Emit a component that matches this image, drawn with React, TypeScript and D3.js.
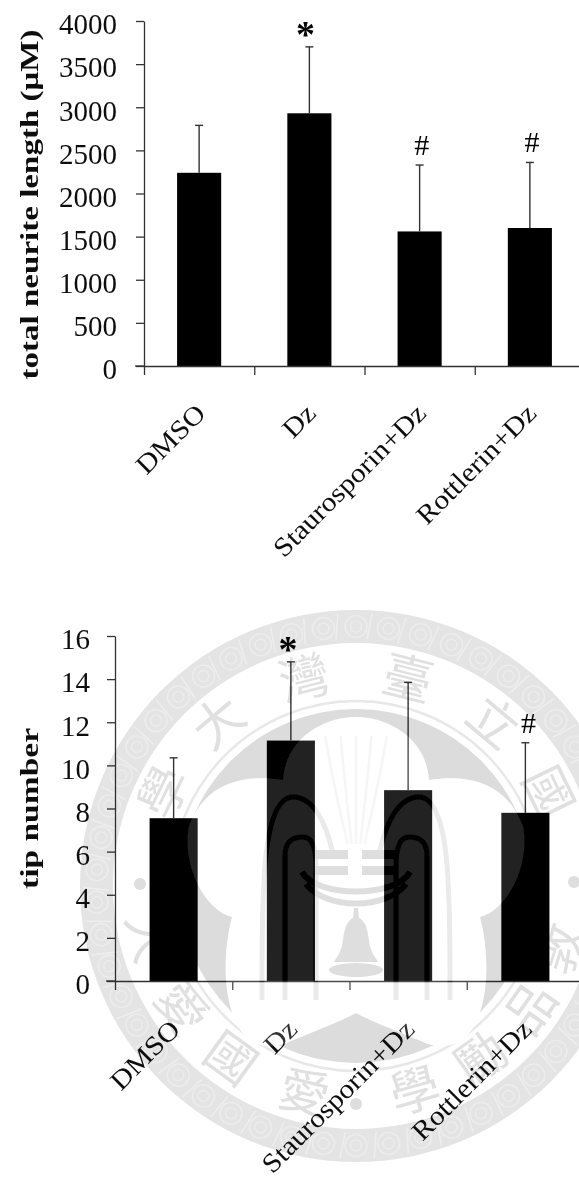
import { useEffect, useRef } from "react";
import * as d3 from "d3";

const categories = ["DMSO", "Dz", "Staurosporin+Dz", "Rottlerin+Dz"];

const lengthMeans = [2240, 2930, 1560, 1600];
const lengthErrorTops = [2790, 3700, 2330, 2360];
const lengthMarks = ["", "*", "#", "#"];
const lengthTicks = [0, 500, 1000, 1500, 2000, 2500, 3000, 3500, 4000];

const tipMeans = [7.55, 11.15, 8.85, 7.8];
const tipErrorTops = [10.35, 14.8, 13.85, 11.05];
const tipMarks = ["", "*", "", "#"];
const tipTicks = [0, 2, 4, 6, 8, 10, 12, 14, 16];

// seal text: character and its clock angle from the seal centre
const sealTop = [
  ["學", -64],
  ["大", -40],
  ["灣", -14],
  ["臺", 14],
  ["立", 40],
  ["國", 64],
];
const sealBottom = [
  ["人", -76],
  ["愛", -55],
  ["國", -36],
  ["愛", -14],
  ["學", 16],
  ["勵", 36],
  ["品", 55],
  ["敦", 73],
];

const SERIF = "'Liberation Serif', serif";
const CJK = "'Noto Sans CJK TC', sans-serif";

function drawChart(root, opts) {
  const { means, tops, marks, ticks, left, right, y0, y1, max, title, titleX, titleLen, labelY, labelDx, barW } = opts;

  const y = d3.scaleLinear().domain([0, max]).range([y0, y1]);
  const x = d3
    .scaleBand()
    .domain(categories)
    .range([left, right])
    .paddingInner(1 - barW)
    .paddingOuter((1 - barW) / 2);
  const edges = d3.scaleLinear().domain([0, 4]).range([left, right]);

  const g = root.append("g");

  g.selectAll("rect.bar")
    .data(categories)
    .enter()
    .append("rect")
    .attr("class", "bar")
    .attr("x", (d) => x(d))
    .attr("y", (d, i) => y(means[i]))
    .attr("width", x.bandwidth())
    .attr("height", (d, i) => y0 - y(means[i]))
    .attr("fill", "#000");

  const err = g
    .selectAll("g.err")
    .data(categories)
    .enter()
    .append("g")
    .attr("class", "err")
    .attr("stroke", "#333")
    .attr("stroke-width", 1.4);
  err
    .append("line")
    .attr("x1", (d) => x(d) + x.bandwidth() / 2)
    .attr("x2", (d) => x(d) + x.bandwidth() / 2)
    .attr("y1", (d, i) => y(means[i]))
    .attr("y2", (d, i) => y(tops[i]));
  err
    .append("line")
    .attr("x1", (d) => x(d) + x.bandwidth() / 2 - 4)
    .attr("x2", (d) => x(d) + x.bandwidth() / 2 + 4)
    .attr("y1", (d, i) => y(tops[i]))
    .attr("y2", (d, i) => y(tops[i]));

  g.selectAll("text.mark")
    .data(categories)
    .enter()
    .append("text")
    .attr("class", "mark")
    .attr("x", (d, i) => x(d) + x.bandwidth() / 2 + opts.markDx + (marks[i] === "*" ? -6 : 0))
    .attr("y", (d, i) => y(tops[i]) - (marks[i] === "*" ? 0 : 10))
    .attr("text-anchor", "middle")
    .attr("font-family", SERIF)
    .attr("font-weight", (d, i) => (marks[i] === "*" ? "bold" : "normal"))
    .attr("font-size", (d, i) => (marks[i] === "*" ? 38 : 30))
    .attr("fill", "#000")
    .text((d, i) => marks[i]);

  const yAxis = g
    .append("g")
    .attr("transform", `translate(${left},0)`)
    .call(
      d3
        .axisLeft(y)
        .tickValues(ticks)
        .tickSize(8)
        .tickPadding(opts.tickPad)
        .tickSizeOuter(0)
        .tickFormat(d3.format("d"))
    );
  yAxis.selectAll("line,path").attr("stroke", "#333").attr("stroke-width", 1.3);
  yAxis
    .selectAll("text")
    .attr("font-family", SERIF)
    .attr("font-size", 29)
    .attr("dy", "0.44em")
    .attr("fill", "#111");

  const xAxis = g
    .append("g")
    .attr("transform", `translate(0,${y0})`)
    .call(d3.axisBottom(edges).ticks(4).tickSize(9).tickSizeOuter(0).tickFormat(() => ""));
  xAxis.selectAll("line,path").attr("stroke", "#333").attr("stroke-width", 1.3);
  g.append("line")
    .attr("x1", left - 9)
    .attr("x2", left)
    .attr("y1", y0)
    .attr("y2", y0)
    .attr("stroke", "#333")
    .attr("stroke-width", 1.3);

  g.selectAll("text.cat")
    .data(categories)
    .enter()
    .append("text")
    .attr("class", "cat")
    .attr("transform", (d) => `translate(${x(d) + x.bandwidth() / 2 + labelDx},${labelY}) rotate(-45) scale(1.1,1)`)
    .attr("text-anchor", "end")
    .attr("font-family", SERIF)
    .attr("font-size", 27)
    .attr("fill", "#111")
    .text((d) => d);

  g.append("text")
    .attr("transform", `translate(${titleX},${(y0 + y1) / 2 + (opts.titleDy || 0)}) rotate(-90)`)
    .attr("text-anchor", "middle")
    .attr("font-family", SERIF)
    .attr("font-weight", "bold")
    .attr("font-size", 25)
    .attr("textLength", titleLen)
    .attr("lengthAdjust", "spacingAndGlyphs")
    .attr("fill", "#111")
    .text(title);
}

// arches, books and bell in the middle of the seal
function drawEmblem(g, color, bookColor) {
  const arches = [
    "M-94,114 C-94,20 -96,-89 -63,-89 C-42,-89 -30,-62 -24,-36",
    "M-71,114 L-71,-30 C-71,-46 -62,-49 -53,-49 C-44,-49 -40,-40 -40,-20 L-40,114",
  ];
  [1, -1].forEach((s) => {
    arches.forEach((d) => {
      g.append("path")
        .attr("d", d)
        .attr("transform", `scale(${s},1)`)
        .attr("fill", "none")
        .attr("stroke", color)
        .attr("stroke-width", 5);
    });
  });
  g.append("rect").attr("x", -42).attr("y", -36).attr("width", 34).attr("height", 9).attr("fill", bookColor);
  g.append("rect").attr("x", 6).attr("y", -36).attr("width", 34).attr("height", 9).attr("fill", bookColor);
  g.append("rect").attr("x", -42).attr("y", -20).attr("width", 34).attr("height", 9).attr("fill", bookColor);
  g.append("rect").attr("x", 6).attr("y", -20).attr("width", 34).attr("height", 9).attr("fill", bookColor);
  g.append("path")
    .attr("d", "M-54,-14 C-40,12 40,12 54,-14")
    .attr("fill", "none")
    .attr("stroke", bookColor)
    .attr("stroke-width", 6);
  g.append("path")
    .attr("d", "M-50,-2 C-30,24 30,24 50,-2")
    .attr("fill", "none")
    .attr("stroke", bookColor)
    .attr("stroke-width", 6);
  g.append("path")
    .attr("d", "M-2,22 L2,22 L3,32 C12,36 12,50 14,60 C16,68 20,72 22,76 L-22,76 C-20,72 -16,68 -14,60 C-12,50 -12,36 -3,32 Z")
    .attr("fill", bookColor);
  g.append("ellipse").attr("cx", 0).attr("cy", 84).attr("rx", 27).attr("ry", 7).attr("fill", bookColor);
}

function drawSeal(root) {
  const cx = 356;
  const cy = 886;
  const flower =
    "M-73,-106 C-70,-150 -30,-169 0,-169 C30,-169 70,-150 73,-106 C110,-112 150,-105 167,-60 C175,-20 150,25 124,31 C132,60 135,110 118,140 C108,160 85,165 65,155 C40,145 15,135 0,127 C-15,135 -40,145 -65,155 C-85,165 -108,160 -118,140 C-135,110 -132,60 -124,31 C-150,25 -175,-20 -167,-60 C-150,-105 -110,-112 -73,-106 Z";

  const defs = root.append("defs");
  const mask = defs.append("mask").attr("id", "seal-lift").attr("maskUnits", "userSpaceOnUse")
    .attr("x", 0).attr("y", 0).attr("width", 579).attr("height", 1189);
  const maskG = mask.append("g").attr("transform", `translate(${cx},${cy})`);
  maskG.append("path").attr("d", flower).attr("fill", "#fff");
  drawEmblem(maskG, "#000", "#000");

  // everything grey multiplies, so the bars stay black under it
  const seal = root
    .append("g")
    .attr("transform", `translate(${cx},${cy})`)
    .style("mix-blend-mode", "multiply");

  seal.append("circle").attr("r", 276).attr("fill", "#e4e4e4");
  seal.append("circle").attr("r", 243).attr("fill", "#fff");

  d3.range(0, 360, 7.2).forEach((a) => {
    const m = seal.append("g").attr("transform", `rotate(${a}) translate(0,-259.5)`);
    m.append("circle").attr("r", 11).attr("fill", "none").attr("stroke", "#ececec").attr("stroke-width", 1.6);
    m.append("circle").attr("r", 5.5).attr("fill", "none").attr("stroke", "#ececec").attr("stroke-width", 1.4);
    m.append("line").attr("x1", 16).attr("x2", 11).attr("y1", -13).attr("y2", 13).attr("stroke", "#eeeeee").attr("stroke-width", 1.5);
  });

  seal.append("circle").attr("r", 185).attr("fill", "none").attr("stroke", "#e8e8e8").attr("stroke-width", 2.5);
  seal.append("circle").attr("r", 177).attr("fill", "#dcdcdc");
  seal.append("path").attr("d", flower).attr("fill", "#fff");
  drawEmblem(seal, "#eaeaea", "#dedede");

  // faint flame strokes above the books
  d3.range(-28, 30, 14).forEach((dx) => {
    seal.append("path")
      .attr("d", `M${dx * 0.3},-42 Q${dx * 0.8},-100 ${dx * 1.1},-150`)
      .attr("fill", "none")
      .attr("stroke", "#f5f5f5")
      .attr("stroke-width", 2.5);
  });

  seal.selectAll("text.top")
    .data(sealTop)
    .enter()
    .append("text")
    .attr("class", "top")
    .attr("transform", (d) => `rotate(${d[1]}) translate(0,-214)`)
    .attr("text-anchor", "middle")
    .attr("dy", "0.36em")
    .attr("font-family", CJK)
    .attr("font-size", 50)
    .attr("fill", "#e0e0e0")
    .text((d) => d[0]);

  // lower characters run the other way round, their tops towards the centre
  seal.selectAll("text.bottom")
    .data(sealBottom)
    .enter()
    .append("text")
    .attr("class", "bottom")
    .attr("transform", (d) => `rotate(${-d[1]}) translate(0,213)`)
    .attr("text-anchor", "middle")
    .attr("dy", "0.36em")
    .attr("font-family", CJK)
    .attr("font-size", 50)
    .attr("fill", "#e0e0e0")
    .text((d) => d[0]);

  [[-216, -2], [218, -4], [0, 218]].forEach(([dx, dy]) => {
    seal.append("circle").attr("cx", dx).attr("cy", dy).attr("r", 6).attr("fill", "#dedede");
  });

  // the seal also lightens whatever black sits on its white parts
  root
    .append("rect")
    .attr("width", 579)
    .attr("height", 1189)
    .attr("fill", "#fff")
    .attr("opacity", 0.13)
    .attr("mask", "url(#seal-lift)");
}

export default function App() {
  const ref = useRef<SVGSVGElement>(null);

  useEffect(() => {
    const svg = d3.select(ref.current);
    svg.selectAll("*").remove();

    svg
      .append("defs")
      .append("filter")
      .attr("id", "soft")
      .attr("x", 0)
      .attr("y", 0)
      .attr("width", 1)
      .attr("height", 1)
      .append("feGaussianBlur")
      .attr("stdDeviation", 0.45);

    const root = svg.append("g").attr("filter", "url(#soft)");
    root.append("rect").attr("width", 579).attr("height", 1189).attr("fill", "#fff");

    drawChart(root, {
      means: lengthMeans,
      tops: lengthErrorTops,
      marks: lengthMarks,
      ticks: lengthTicks,
      left: 144,
      right: 585,
      y0: 366,
      y1: 21,
      max: 4000,
      title: "total neurite length (μM)",
      titleX: 38,
      titleLen: 350,
      titleDy: 11,
      labelY: 415,
      labelDx: 8,
      barW: 0.4,
      tickPad: 19,
      markDx: 2,
    });

    drawChart(root, {
      means: tipMeans,
      tops: tipErrorTops,
      marks: tipMarks,
      ticks: tipTicks,
      left: 115,
      right: 584,
      y0: 981,
      y1: 636,
      max: 16,
      title: "tip number",
      titleX: 38,
      titleLen: 161,
      titleDy: 0,
      labelY: 1031,
      labelDx: 8,
      barW: 0.41,
      tickPad: 17,
      markDx: 3,
    });

    drawSeal(root);
  }, []);

  return (
    <svg
      ref={ref}
      width={579}
      height={1189}
      style={{ position: "absolute", left: 0, top: 0, background: "#fff" }}
    />
  );
}
